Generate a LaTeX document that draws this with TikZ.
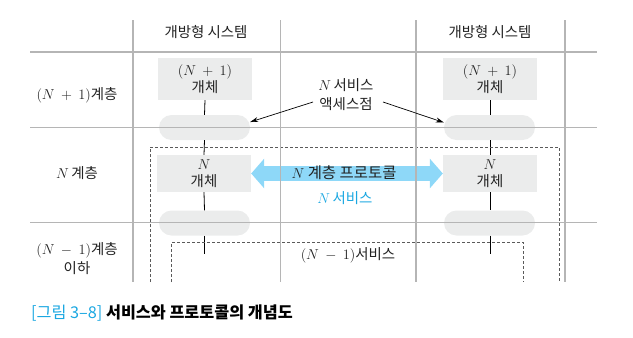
\documentclass[tikz,border=0pt]{standalone}
\usepackage{fontspec}
\setmainfont{Noto Sans CJK KR}
\usetikzlibrary{arrows.meta}
\definecolor{gridgray}{HTML}{B5B5B5}
\definecolor{boxgray}{HTML}{EBECEC}
\definecolor{txt}{HTML}{222222}
\definecolor{arrowblue}{HTML}{8ED8F8}
\definecolor{nblue}{HTML}{1AA7E1}
\definecolor{dashgray}{HTML}{5A5A5A}
\newcommand{\plusone}{(N\:+\:1)}
\newcommand{\minusone}{(N\:-\:1)}
\begin{document}
\begin{tikzpicture}[x=1bp,y=-1bp,
  gridline/.style={draw=gridgray, line width=1.4bp},
  obox/.style={fill=boxgray, minimum width=94bp, inner sep=0pt, align=center, text=txt,
    font=\fontsize{14.5}{16.5}\selectfont},
  pill/.style={fill=boxgray, rounded corners=12.5bp, minimum width=91bp, minimum height=25bp, inner sep=0pt},
  tickline/.style={draw=black, line width=0.8bp},
  dashbox/.style={draw=dashgray, dash pattern=on 3bp off 2bp, line width=0.9bp},
  lbl/.style={text=txt, font=\fontsize{14.5}{19}\selectfont, align=center, inner sep=0pt},
  ptr/.style={draw=black, line width=0.7bp, -{Stealth[length=8bp,width=5bp]}}
]
\useasboundingbox (0,0) rectangle (633,337);

% entity boxes
\node[obox, minimum height=42bp] (b1) at (205,79) {$\plusone$\\개체};
\node[obox, minimum height=42bp] (b1r) at (490,79) {$\plusone$\\개체};
\node[obox, minimum height=37bp] (b2) at (204,173.5) {$N$\\개체};
\node[obox, minimum height=37bp] (b2r) at (490,173.5) {$N$\\개체};
% service access points
\node[pill] (p1) at (204.5,127.5) {};
\node[pill] (p1r) at (489.5,127.5) {};
\node[pill] (p2) at (204.5,223) {};
\node[pill] (p2r) at (489.5,223) {};
\coordinate (e1) at (204.5,254);
\coordinate (e1r) at (490,254);

% vertical ticks
\draw[tickline] (b1.south) -- (p1.north);
\draw[tickline] (p1.south) -- (b2.north);
\draw[tickline] (b2.south) -- (p2.north);
\draw[tickline] (p2.south) -- (e1);
\draw[tickline] (b1r.south) -- (p1r.north -| b1r.south);
\draw[tickline] (p1r.south -| b1r.south) -- (b2r.north);
\draw[tickline] (b2r.south) -- (p2r.north -| b2r.south);
\draw[tickline] (p2r.south -| b2r.south) -- (e1r);

% protocol arrow
\draw[arrowblue, line width=15bp,
  {Triangle[length=13bp,width=29bp]}-{Triangle[length=13bp,width=29bp]}]
  (b2.east) -- (b2r.west);

% dashed service boundaries
\draw[dashbox] (150,282) -- (150,147) -- (559,147) -- (559,282);
\draw[dashbox] (171.7,282) -- (171.7,242.3) -- (523.3,242.3) -- (523.3,282);

% grid
\draw[gridline] (30,52) -- (597,52);
\draw[gridline] (30,127.7) -- (597,127.7);
\draw[gridline] (30,222.7) -- (597,222.7);
\foreach \gx in {133,280.5,416,565}
  \draw[gridline] (\gx,20) -- (\gx,282);

% labels
\node[lbl] (h1) at (206,32) {개방형 시스템};
\node[lbl] (h2) at (490,32) {개방형 시스템};
\node[lbl] (l1) at (77,95) {$\plusone$계층};
\node[lbl] (l2) at (77,173) {$N$\,계층};
\node[lbl] (l3) at (77,259) {$\minusone$계층\\이하};
\node[lbl] (sap) at (346,95) {$N$\,서비스\\액세스점};
\node[lbl, font=\fontsize{15.5}{19}\selectfont] (proto) at (344,172.5) {$N$ 계층 프로토콜};
\node[lbl, text=nblue] (nsvc) at (345,198) {$N$\,서비스};
\node[lbl] (n1svc) at (348,255) {$\minusone$서비스};

\coordinate (s1) at (313,102);
\coordinate (s2) at (383,102);
\draw[ptr] (s1) -- ([yshift=5.5bp]p1.east);
\draw[ptr] (s2) -- ([yshift=5bp]p1r.west);

% caption
\node[anchor=west, inner sep=0pt, font=\fontsize{16.3}{18}\selectfont] (cap) at (31,313)
  {\textcolor{nblue}{[그림 3–8]}\ \textbf{서비스와 프로토콜의 개념도}};
\end{tikzpicture}
\end{document}
